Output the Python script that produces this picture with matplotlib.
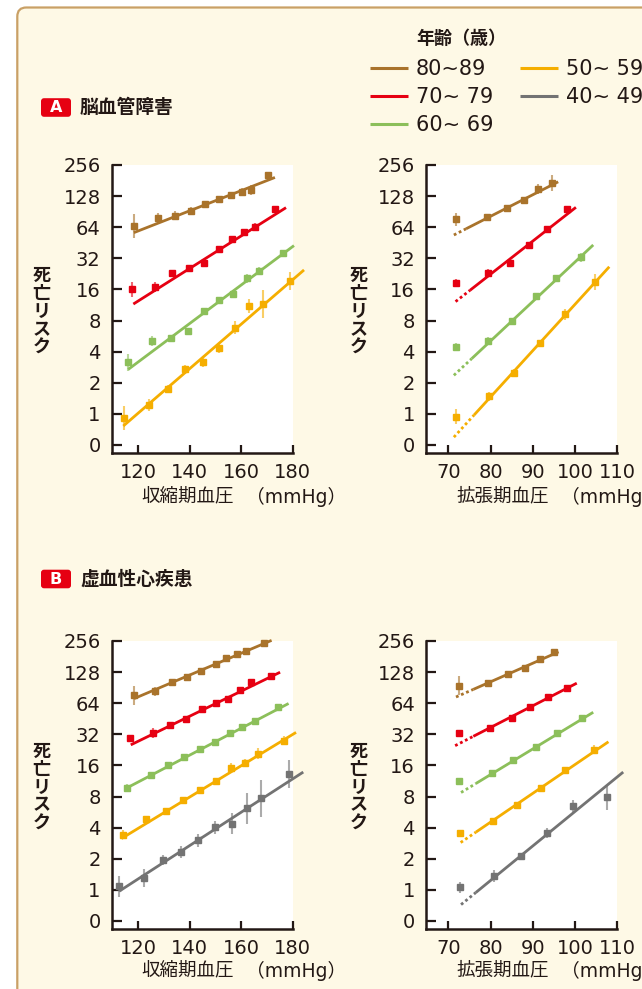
import numpy as np
import matplotlib
matplotlib.use("Agg")
import matplotlib.pyplot as plt
from matplotlib.patches import FancyBboxPatch

W, H = 642, 989
CJK = ['Noto Sans CJK JP', 'DejaVu Sans']
NUM = ['DejaVu Sans']
MIX = ['DejaVu Sans', 'Noto Sans CJK JP']
INK = "#231815"

# ---------------- data ----------------
age_labels = ["80~89", "70~ 79", "60~ 69", "50~ 59", "40~ 49"]
age_colors = ["#a9732b", "#e60012", "#8cbf5a", "#f5ae00", "#737373"]

y_ticks = [0.5, 1, 2, 4, 8, 16, 32, 64, 128, 256]
y_tick_labels = ["0", "1", "2", "4", "8", "16", "32", "64", "128", "256"]
sbp_ticks = [120, 140, 160, 180]
dbp_ticks = [70, 80, 90, 100, 110]

# A: 脳血管障害, systolic
a_sbp_x = [
    [118.3, 127.5, 134.3, 140.5, 146.0, 151.4, 155.9, 160.2, 163.8, 170.5],
    [117.5, 126.5, 133.1, 139.8, 145.4, 151.5, 156.4, 161.1, 165.4, 173.3],
    [115.9, 125.2, 132.6, 139.2, 145.5, 151.4, 156.7, 162.2, 166.8, 176.4],
    [114.3, 124.0, 131.4, 138.0, 145.0, 151.2, 157.6, 162.9, 168.5, 179.0],
]
a_sbp_risk = [
    [66, 78, 83, 92, 107, 119, 130, 140, 148, 205],
    [16.0, 17.0, 22.9, 26.0, 28.6, 39.4, 49.2, 57.3, 64.9, 95.3],
    [3.16, 5.06, 5.39, 6.32, 9.99, 12.6, 14.4, 20.5, 24.3, 36.2],
    [0.91, 1.22, 1.74, 2.69, 3.16, 4.32, 6.82, 11.1, 11.6, 19.3],
]
a_sbp_err = [
    [0.38, 0.17, 0.15, 0.14, 0.10, 0.12, 0.12, 0.14, 0.16, 0.08],
    [0.25, 0.16, 0.12, 0.10, 0.10, 0.06, 0.08, 0.08, 0.10, 0.08],
    [0.28, 0.15, 0.10, 0.08, 0.08, 0.08, 0.10, 0.15, 0.13, 0.10],
    [0.38, 0.18, 0.14, 0.14, 0.16, 0.14, 0.20, 0.22, 0.45, 0.28],
]
a_sbp_fit_x = [[118.3, 173.1], [118.1, 177.4], [116.1, 180.5], [114.2, 184.4]]
a_sbp_fit_risk = [[56.7, 194], [11.55, 99], [2.69, 42.5], [0.763, 24.7]]

# A: 脳血管障害, diastolic
a_dbp_x = [
    [71.7, 79.1, 83.8, 87.9, 91.3, 94.6],
    [71.8, 79.4, 84.7, 89.2, 93.4, 98.1],
    [71.7, 79.5, 85.1, 90.7, 95.6, 101.3],
    [71.7, 79.7, 85.5, 91.7, 97.6, 104.7],
]
a_dbp_risk = [
    [76.1, 81, 97.7, 117, 150, 172],
    [18.4, 23.3, 28.6, 43.1, 61.0, 95.3],
    [4.47, 5.10, 7.94, 13.9, 20.8, 32.7],
    [0.94, 1.48, 2.51, 4.82, 9.19, 18.8],
]
a_dbp_err = [
    [0.20, 0.08, 0.08, 0.10, 0.15, 0.25],
    [0.12, 0.10, 0.08, 0.06, 0.08, 0.10],
    [0.12, 0.12, 0.10, 0.08, 0.08, 0.15],
    [0.25, 0.15, 0.12, 0.12, 0.18, 0.25],
]
a_dbp_fit_x = [[71.3, 96.0], [71.7, 100.2], [71.3, 104.3], [71.3, 108.1]]
a_dbp_fit_risk = [[53.8, 176], [12.2, 99.7], [2.36, 43.1], [0.595, 26.5]]
a_dbp_solid_from = [74.2, 75.1, 75.5, 76.1]

# B: 虚血性心疾患, systolic
b_sbp_x = [
    [118.4, 126.5, 133.1, 138.9, 144.4, 150.1, 154.1, 158.4, 162.0, 168.7],
    [116.8, 125.7, 132.3, 138.4, 144.6, 150.1, 155.0, 159.5, 163.7, 171.4],
    [115.6, 124.8, 131.7, 137.6, 144.1, 149.8, 155.5, 160.4, 165.5, 174.2],
    [114.2, 123.2, 130.6, 137.4, 144.0, 150.1, 156.0, 161.5, 166.5, 176.6],
    [112.4, 122.2, 129.5, 136.6, 143.2, 149.8, 156.3, 162.2, 167.7, 178.4],
]
b_sbp_risk = [
    [76.1, 83.3, 101.8, 114.6, 130, 152, 174, 191, 205, 246],
    [29.4, 32.9, 39.1, 45.3, 56.5, 64.4, 71.0, 86.2, 101.8, 116.2],
    [9.71, 12.8, 16.0, 19.2, 23.1, 26.7, 32.9, 37.3, 43.1, 58.5],
    [3.43, 4.81, 5.86, 7.41, 9.25, 11.3, 15.1, 17.0, 20.7, 27.7],
    [1.08, 1.30, 1.95, 2.33, 3.01, 4.03, 4.38, 6.15, 7.67, 13.2],
]
b_sbp_err = [
    [0.30, 0.15, 0.10, 0.10, 0.08, 0.08, 0.08, 0.10, 0.10, 0.08],
    [0.10, 0.15, 0.10, 0.08, 0.08, 0.08, 0.08, 0.08, 0.10, 0.08],
    [0.12, 0.08, 0.08, 0.06, 0.06, 0.06, 0.06, 0.08, 0.08, 0.06],
    [0.15, 0.10, 0.08, 0.06, 0.06, 0.08, 0.15, 0.12, 0.18, 0.15],
    [0.35, 0.28, 0.15, 0.20, 0.20, 0.20, 0.35, 0.50, 0.60, 0.45],
]
b_sbp_fit_x = [[118.4, 171.8], [117.1, 175.1], [115.2, 178.4], [113.5, 181.3], [112.6, 184.1]]
b_sbp_fit_risk = [[71.0, 259.6], [25.3, 127.6], [9.58, 63.6], [3.14, 33.4], [0.97, 13.8]]

# B: 虚血性心疾患, diastolic
b_dbp_x = [
    [72.4, 79.3, 84.2, 88.1, 91.6, 95.1],
    [72.4, 79.9, 85.0, 89.3, 93.7, 98.2],
    [72.4, 80.4, 85.3, 90.8, 95.7, 101.6],
    [72.7, 80.6, 86.3, 91.9, 97.5, 104.5],
    [72.7, 80.7, 87.1, 93.4, 99.6, 107.6],
]
b_dbp_risk = [
    [94.4, 100.4, 122.8, 139.1, 170, 199.5],
    [32.7, 36.8, 46.2, 58.5, 73.5, 89.9],
    [11.3, 13.4, 17.9, 24.3, 32.9, 45.6],
    [3.56, 4.59, 6.63, 9.71, 14.3, 22.8],
    [1.06, 1.37, 2.13, 3.56, 6.50, 7.84],
]
b_dbp_err = [
    [0.30, 0.06, 0.08, 0.06, 0.06, 0.08],
    [0.06, 0.06, 0.10, 0.06, 0.06, 0.08],
    [0.06, 0.08, 0.12, 0.06, 0.06, 0.06],
    [0.08, 0.06, 0.08, 0.06, 0.06, 0.15],
    [0.18, 0.20, 0.10, 0.15, 0.20, 0.40],
]
b_dbp_fit_x = [[71.8, 96.1], [71.6, 100.4], [73.0, 104.3], [72.9, 107.9], [73.0, 111.4]]
b_dbp_fit_risk = [[73.5, 200.9], [24.85, 100], [8.75, 52.3], [2.87, 27.1], [0.72, 13.8]]
b_dbp_solid_from = [75.9, 75.9, 76.5, 76.5, 76.5]

# ---------------- figure ----------------
fig = plt.figure(figsize=(W / 100, H / 100), dpi=100, facecolor="white")

bg = fig.add_axes([0, 0, 1, 1], zorder=0)
bg.set_xlim(0, W)
bg.set_ylim(H, 0)
bg.axis("off")
bg.add_patch(FancyBboxPatch((17.3, 7.5), 800, 1200,
                            boxstyle="round,pad=0,rounding_size=9",
                            facecolor="#fef9e6", edgecolor="#c9a066", lw=1.6))

# legend
bg.text(416.5, 38, "年齢（歳）", family=CJK, fontsize=13, weight="bold",
        color=INK, ha="left", va="center")
leg_pos = [(370, 68.3), (370, 96.3), (370, 124.3), (520, 68.3), (520, 96.3)]
for (lx, ly), lab, col in zip(leg_pos, age_labels, age_colors):
    bg.plot([lx, lx + 37.5], [ly, ly], color=col, lw=2.2, solid_capstyle="butt")
    bg.text(lx + 46, ly + 0.5, lab, family=NUM, fontsize=15, color=INK,
            ha="left", va="center")

# section headers
for (by, letter, title) in [(107.5, "A", "脳血管障害"), (579.0, "B", "虚血性心疾患")]:
    bg.add_patch(FancyBboxPatch((41, by - 9.3), 30, 18.6,
                                boxstyle="round,pad=0,rounding_size=3",
                                facecolor="#e60012", edgecolor="none"))
    bg.text(56, by + 0.3, letter, family=NUM, fontsize=11.5, weight="bold",
            color="white", ha="center", va="center")
    bg.text(80, by, title, family=CJK, fontsize=13.5, weight="bold",
            color=INK, ha="left", va="center")


def make_axes(left, right, top, bottom):
    return fig.add_axes([left / W, 1 - bottom / H, (right - left) / W, (bottom - top) / H],
                        zorder=2)


def style(ax, xlim, xticks):
    ax.set_facecolor("white")
    ax.set_yscale("log", base=2)
    ax.set_ylim(0.418, 256)
    ax.set_xlim(*xlim)
    ax.set_yticks(y_ticks)
    ax.set_yticklabels(y_tick_labels)
    ax.yaxis.set_minor_locator(matplotlib.ticker.NullLocator())
    ax.set_xticks(xticks)
    ax.set_xticklabels([str(t) for t in xticks])
    for s in ["top", "right"]:
        ax.spines[s].set_visible(False)
    for s in ["left", "bottom"]:
        ax.spines[s].set_linewidth(1.8)
        ax.spines[s].set_color(INK)
    ax.tick_params(axis="y", direction="in", length=7, width=1.6, color=INK,
                   pad=8, labelsize=14, labelcolor=INK)
    ax.tick_params(axis="x", direction="in", length=6, width=1.6, color=INK,
                   pad=7, labelsize=14, labelcolor=INK)
    for lab in ax.get_xticklabels() + ax.get_yticklabels():
        lab.set_family(NUM)


def draw(ax, xs, rs, es, fx, fr, solid_from=None):
    for i in range(len(xs)):
        col = age_colors[i]
        x = np.asarray(xs[i], float)
        r = np.asarray(rs[i], float)
        e = np.asarray(es[i], float)
        ax.vlines(x, r * 2.0 ** (-e), r * 2.0 ** e, color=col, lw=1.5, alpha=0.6, zorder=3)
        x0, x1 = fx[i]
        r0, r1 = fr[i]
        if solid_from is None:
            ax.plot([x0, x1], [r0, r1], color=col, lw=2.0, zorder=4, clip_on=False,
                    solid_capstyle="butt")
        else:
            xsol = solid_from[i]
            t = (xsol - x0) / (x1 - x0)
            rsol = 2.0 ** (np.log2(r0) + t * (np.log2(r1) - np.log2(r0)))
            ax.plot([x0, xsol], [r0, rsol], color=col, lw=2.0, zorder=4, clip_on=False,
                    linestyle=(0, (1.0, 1.0)))
            ax.plot([xsol, x1], [rsol, r1], color=col, lw=2.0, zorder=4, clip_on=False,
                    solid_capstyle="butt")
        ax.plot(x, r, linestyle="none", marker="s", ms=4.5, color=col, zorder=5,
                clip_on=False)


def labels(ylab_cx, ylab_cy, xlab_x, xlab_y, xlab_text):
    chars = "死亡リスク"
    step = 18.0
    y0 = ylab_cy - step * (len(chars) - 1) / 2
    for k, ch in enumerate(chars):
        bg.text(ylab_cx, y0 + k * step, ch, family=CJK, fontsize=13, weight="bold",
                color=INK, ha="center", va="center")
    bg.text(xlab_x, xlab_y, xlab_text, family=CJK, fontsize=13.3, color=INK,
            ha="left", va="center")
    bg.text(xlab_x + 105, xlab_y, "（mmHg）", family=MIX, fontsize=13.5, color=INK,
            ha="left", va="center")


panels = [
    (111.7, 292.7, 165.0, 453.0, (109.7, 180), sbp_ticks, a_sbp_x, a_sbp_risk, a_sbp_err,
     a_sbp_fit_x, a_sbp_fit_risk, None),
    (426.0, 617.3, 165.0, 453.0, (64.7, 110), dbp_ticks, a_dbp_x, a_dbp_risk, a_dbp_err,
     a_dbp_fit_x, a_dbp_fit_risk, a_dbp_solid_from),
    (111.7, 292.7, 641.0, 929.0, (109.7, 180), sbp_ticks, b_sbp_x, b_sbp_risk, b_sbp_err,
     b_sbp_fit_x, b_sbp_fit_risk, None),
    (426.0, 617.3, 641.0, 929.0, (64.7, 110), dbp_ticks, b_dbp_x, b_dbp_risk, b_dbp_err,
     b_dbp_fit_x, b_dbp_fit_risk, b_dbp_solid_from),
]
for (l, r, t, b, xl, xt, xs, rs, es, fx, fr, sf) in panels:
    ax = make_axes(l, r, t, b)
    style(ax, xl, xt)
    draw(ax, xs, rs, es, fx, fr, sf)

labels(41.7, 311.5, 141, 496.5, "収縮期血圧")
labels(358.5, 311.5, 456, 496.5, "拡張期血圧")
labels(41.7, 787.0, 141, 970.5, "収縮期血圧")
labels(358.5, 787.0, 456, 970.5, "拡張期血圧")

fig.savefig("out.png", dpi=100, facecolor="white")
